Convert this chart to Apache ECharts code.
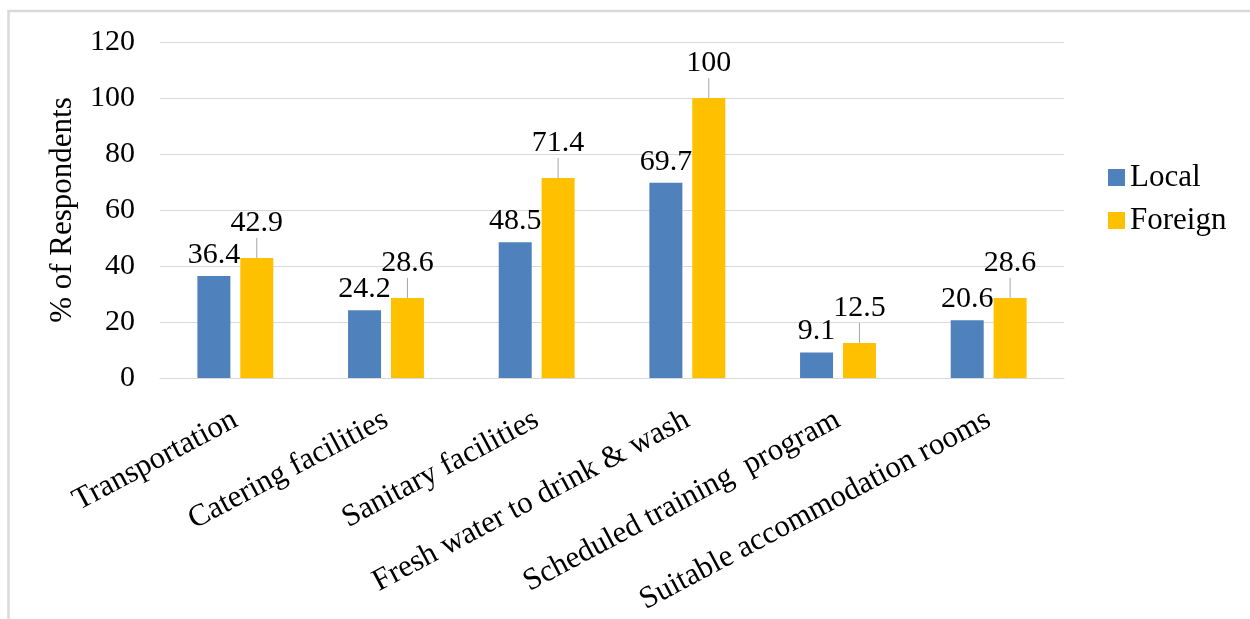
<!DOCTYPE html>
<html>
<head>
<meta charset="utf-8">
<script src="https://cdn.jsdelivr.net/npm/echarts@6/dist/echarts.min.js"></script>
<style>
  html, body { margin: 0; padding: 0; background: #fff; }
  #chart { width: 1250px; height: 619px; }
</style>
</head>
<body>
<div id="chart"></div>
<script>
// Facilities provided to respondents, by origin
const categories = [
  'Transportation',
  'Catering facilities',
  'Sanitary facilities',
  'Fresh water to drink & wash',
  'Scheduled training  program',
  'Suitable accommodation rooms'
];
const localValues = [36.4, 24.2, 48.5, 69.7, 9.1, 20.6];
const foreignValues = [42.9, 28.6, 71.4, 100, 12.5, 28.6];
const seriesNames = ['Local', 'Foreign'];
const yAxisTitle = '% of Respondents';

const FONT = 'Liberation Serif, Times New Roman, serif';
const BLUE = '#4F81BD';
const GOLD = '#FFC000';
const GRID = '#d9d9d9';

const chart = echarts.init(document.getElementById('chart'));

const labelBase = {
  show: true,
  position: 'top',
  distance: 6,
  fontFamily: FONT,
  fontSize: 30,
  color: '#000'
};

chart.setOption({
  backgroundColor: '#fff',
  animation: false,
  graphic: [{
    type: 'rect',
    shape: { x: 8.5, y: 11, width: 1400, height: 800 },
    style: { fill: 'none', stroke: GRID, lineWidth: 2.5 },
    silent: true,
    z: -10
  }],
  grid: { left: 160, right: 186, top: 42, bottom: 241 },
  legend: {
    orient: 'vertical',
    left: 1103,
    top: 157,
    itemWidth: 17,
    itemHeight: 17,
    itemGap: 12,
    icon: 'rect',
    textStyle: { fontFamily: FONT, fontSize: 31, color: '#000' },
    data: seriesNames
  },
  xAxis: {
    type: 'category',
    data: categories,
    axisLine: { show: true, lineStyle: { color: GRID, width: 1 } },
    axisTick: { show: false },
    axisLabel: {
      interval: 0,
      rotate: 28,
      margin: 40,
      fontFamily: FONT,
      fontSize: 31,
      color: '#000'
    }
  },
  yAxis: {
    type: 'value',
    min: 0,
    max: 120,
    interval: 20,
    name: yAxisTitle,
    nameLocation: 'middle',
    nameGap: 82,
    nameTextStyle: { fontFamily: FONT, fontSize: 31, color: '#000' },
    axisLine: { show: false },
    axisTick: { show: false },
    splitLine: { lineStyle: { color: GRID, width: 1 } },
    axisLabel: { margin: 25, fontFamily: FONT, fontSize: 30, color: '#000' }
  },
  series: [
    {
      name: seriesNames[0],
      type: 'bar',
      data: localValues,
      barWidth: 33,
      barGap: '30%',
      itemStyle: { color: BLUE },
      label: labelBase
    },
    {
      name: seriesNames[1],
      type: 'bar',
      data: foreignValues,
      barWidth: 33,
      barGap: '30%',
      itemStyle: { color: GOLD },
      label: labelBase,
      labelLayout: { dy: -14 },
      labelLine: { show: true, lineStyle: { color: '#a6a6a6', width: 1 } }
    }
  ]
});
</script>
</body>
</html>
